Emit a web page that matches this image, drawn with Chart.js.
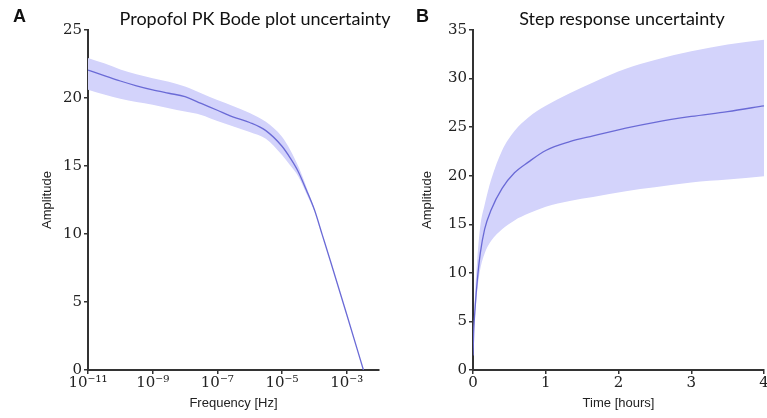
<!DOCTYPE html>
<html>
<head>
<meta charset="utf-8">
<script src="https://cdn.jsdelivr.net/npm/chart.js@4.4.0/dist/chart.umd.min.js"></script>
<style>
body{margin:0;width:767px;height:418px;overflow:hidden;background:#fff;position:relative}
.painel{position:absolute;top:0;height:418px}
#painelA{left:0;width:395px}
#painelB{left:400px;width:380px}
.titulo{position:absolute;top:7px;transform:translateX(-50%);font-family:Lato,"Open Sans",sans-serif;font-size:18px;color:#111;white-space:nowrap}
.letra{position:absolute;top:6px;font-family:"Liberation Sans",Arial,sans-serif;font-weight:bold;font-size:18px;color:#111}
</style>
</head>
<body>
<div class="painel" id="painelA"><canvas id="graficoBode" width="395" height="418"></canvas></div>
<div class="painel" id="painelB"><canvas id="graficoDegrau" width="380" height="418"></canvas></div>
<div class="letra" style="left:13px">A</div>
<div class="letra" style="left:416px">B</div>
<div class="titulo" style="left:255px">Propofol PK Bode plot uncertainty</div>
<div class="titulo" style="left:622px">Step response uncertainty</div>
<script>
// painel A - bode
var bodeFreq  = [1e-11, 3.16e-11, 1e-10, 3.16e-10, 1e-9, 3.16e-9, 1e-8, 3.16e-8, 1e-7, 3.16e-7, 1e-6, 3.16e-6, 1e-5, 1.78e-5, 3.16e-5, 5.62e-5, 1e-4, 1.78e-4, 3.16e-4, 1e-3, 3.3e-3]
var bodeMedia = [22.05, 21.65, 21.25, 20.9, 20.6, 20.35, 20.1, 19.6, 19.1, 18.6, 18.2, 17.6, 16.45, 15.6, 14.6, 13.25, 11.8, 9.9, 8.0, 4.1, 0]
var bodeSup   = [22.95, 22.55, 22.1, 21.75, 21.45, 21.2, 20.85, 20.35, 19.85, 19.4, 18.9, 18.25, 17.15, 16.2, 15.0, 13.5, 11.9]
var bodeInf   = [20.6, 20.25, 19.95, 19.7, 19.5, 19.25, 19.0, 18.75, 18.3, 17.9, 17.5, 17.0, 15.8, 15.05, 14.25, 13.0, 11.7]
var bodeTicks = [1e-11, 1e-9, 1e-7, 1e-5, 1e-3]
var bodeRotulos = ['10⁻¹¹', '10⁻⁹', '10⁻⁷', '10⁻⁵', '10⁻³']

// painel B - degrau
var degrauTempo = [0, 0.01, 0.03, 0.06, 0.1, 0.16, 0.25, 0.4, 0.57, 0.76, 1.0, 1.33, 1.65, 2.1, 2.5, 3.0, 3.5, 4.0]
var degrauMedia = [1.5, 4.0, 6.5, 9.3, 12.0, 14.5, 16.5, 18.7, 20.3, 21.4, 22.6, 23.5, 24.1, 24.9, 25.5, 26.1, 26.6, 27.2]
var degrauSup   = [1.5, 4.3, 8.0, 11.5, 14.8, 17.0, 19.6, 22.6, 24.6, 26.0, 27.2, 28.5, 29.6, 31.0, 31.9, 32.8, 33.5, 34.0]
var degrauInf   = [1.5, 3.8, 5.8, 8.3, 10.4, 12.0, 13.3, 14.5, 15.4, 16.1, 16.8, 17.4, 17.8, 18.4, 18.8, 19.3, 19.6, 19.95]

var corLinha = '#6a6ad6'
var corFaixa = '#d3d3fb'
var corEixo = '#333'
var fonteNum = '"DejaVu Serif", "Liberation Serif", serif'

function pares(xs, ys) {
    return ys.map((y, i) => ({x: xs[i], y: y}))
}

function eixoY(max, largura, titulo) {
    return {
        type: 'linear', min: 0, max: max,
        afterFit: s => { s.width = largura },
        ticks: {stepSize: 5, padding: 2, color: '#222', font: {family: fonteNum, size: 15}},
        grid: {drawOnChartArea: false, tickLength: 4, color: corEixo, lineWidth: 1.5},
        border: {color: corEixo, width: 2},
        title: {display: true, text: titulo, color: '#222', padding: 0, font: {family: '"Liberation Sans", Arial, sans-serif', size: 13}}
    }
}

function eixoX(extra, titulo) {
    return Object.assign({
        afterFit: s => { s.height = 48 },
        ticks: {padding: 0, color: '#222', autoSkip: false, maxRotation: 0, font: {family: fonteNum, size: 15}},
        grid: {drawOnChartArea: false, tickLength: 4, color: corEixo, lineWidth: 1.5},
        border: {color: corEixo, width: 2},
        title: {display: true, text: titulo, color: '#222', padding: {top: 0, bottom: 7}, font: {family: '"Liberation Sans", Arial, sans-serif', size: 13}}
    }, extra)
}

function conjuntos(xs, media, sup, inf) {
    return [
        {data: pares(xs, sup), order: 2, borderWidth: 0, pointRadius: 0, fill: '+1', backgroundColor: corFaixa, cubicInterpolationMode: 'monotone'},
        {data: pares(xs, inf), order: 3, borderWidth: 0, pointRadius: 0, fill: false, cubicInterpolationMode: 'monotone'},
        {data: pares(xs, media), order: 0, borderColor: corLinha, borderWidth: 1.3, pointRadius: 0, fill: false, cubicInterpolationMode: 'monotone'}
    ]
}

var opcoesBase = {
    responsive: false,
    animation: false,
    plugins: {legend: {display: false}, tooltip: {enabled: false}}
}

new Chart(document.getElementById('graficoBode'), {
    type: 'line',
    data: {datasets: conjuntos(bodeFreq, bodeMedia, bodeSup, bodeInf)},
    options: Object.assign({}, opcoesBase, {
        layout: {padding: {left: 40, right: 16, top: 30, bottom: 0}},
        scales: {
            x: eixoX({
                type: 'logarithmic', min: 1e-11, max: 1e-2,
                afterBuildTicks: a => { a.ticks = bodeTicks.map(v => ({value: v})) },
            }, 'Frequency [Hz]'),
            y: eixoY(25, 48, 'Amplitude')
        }
    })
})
// rotulos do eixo log
Chart.getChart('graficoBode').options.scales.x.ticks.callback = (v, i) => bodeRotulos[i]
Chart.getChart('graficoBode').update()

new Chart(document.getElementById('graficoDegrau'), {
    type: 'line',
    data: {datasets: conjuntos(degrauTempo, degrauMedia, degrauSup, degrauInf)},
    options: Object.assign({}, opcoesBase, {
        layout: {padding: {left: 20, right: 16, top: 30, bottom: 0}},
        scales: {
            x: eixoX({type: 'linear', min: 0, max: 4}, 'Time [hours]'),
            y: eixoY(35, 53, 'Amplitude')
        }
    })
})
Chart.getChart('graficoDegrau').options.scales.x.ticks.stepSize = 1
Chart.getChart('graficoDegrau').update()
</script>
</body>
</html>
